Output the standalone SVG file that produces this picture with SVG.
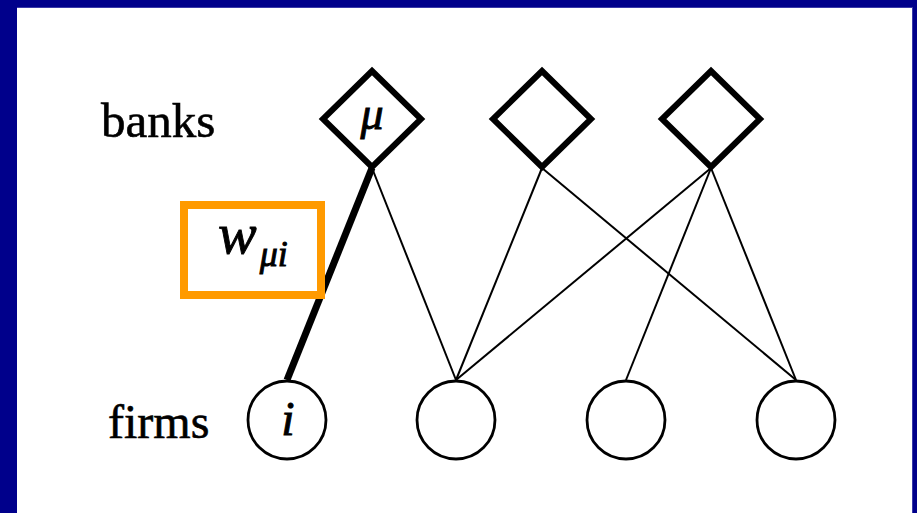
<svg xmlns="http://www.w3.org/2000/svg" width="917" height="513" viewBox="0 0 917 513">
  <style>
    .bank { fill: #fff; stroke: #000; stroke-width: 6; stroke-linejoin: miter; }
    .firm { fill: #fff; stroke: #000; stroke-width: 2.8; }
    .edge { stroke: #000; stroke-width: 2; fill: none; }
    .heavy { stroke: #000; stroke-width: 7; fill: none; }
    .lbl { font-family: "Liberation Serif", "DejaVu Serif", serif; fill: #000; stroke: #000; stroke-width: 0.6; }
    .math { font-family: "Liberation Serif", "DejaVu Serif", serif; font-style: italic; fill: #000; stroke: #000; stroke-width: 0.9; }
  </style>

  <!-- slide frame -->
  <rect x="0" y="0" width="917" height="513" fill="#00008B"/>
  <rect x="17" y="7" width="896" height="506" fill="#fff"/>
  <line x1="17" y1="7.5" x2="913" y2="7.5" stroke="#3a3aa8" stroke-width="1"/>
  <line x1="912.5" y1="7" x2="912.5" y2="513" stroke="#3a3aa8" stroke-width="1"/>

  <!-- row labels -->
  <text class="lbl" x="101" y="137" font-size="49">banks</text>
  <text class="lbl" x="108" y="438" font-size="48">firms</text>

  <!-- bank-firm links -->
  <g id="connectors">
    <line class="heavy" x1="372" y1="168" x2="287" y2="380"/>
    <line class="edge" x1="372" y1="168" x2="456" y2="380"/>
    <line class="edge" x1="542" y1="168" x2="456" y2="380"/>
    <line class="edge" x1="542" y1="168" x2="796" y2="380"/>
    <line class="edge" x1="711" y1="168" x2="456" y2="380"/>
    <line class="edge" x1="711" y1="168" x2="626" y2="380"/>
    <line class="edge" x1="711" y1="168" x2="796" y2="380"/>
  </g>

  <!-- banks -->
  <g id="bank-mu">
    <polygon class="bank" points="372,71 421,119 372,167 323,119"/>
    <text class="math" x="372" y="129" font-size="46" text-anchor="middle">μ</text>
  </g>
  <g id="bank-2">
    <polygon class="bank" points="542,71 591,119 542,167 493,119"/>
  </g>
  <g id="bank-3">
    <polygon class="bank" points="711,71 760,119 711,167 662,119"/>
  </g>

  <!-- firms -->
  <g id="firm-i">
    <circle class="firm" cx="287" cy="420" r="39"/>
    <text class="math" x="288" y="435" font-size="48" text-anchor="middle">i</text>
  </g>
  <g id="firm-2">
    <circle class="firm" cx="456" cy="420" r="39"/>
  </g>
  <g id="firm-3">
    <circle class="firm" cx="626" cy="420" r="39"/>
  </g>
  <g id="firm-4">
    <circle class="firm" cx="796" cy="420" r="39"/>
  </g>

  <!-- highlighted weight label -->
  <g id="weight-label">
    <rect x="184" y="205" width="137" height="90" fill="none" stroke="#FF9A00" stroke-width="8"/>
    <text class="math" x="218" y="253" font-size="58">w<tspan font-size="36" dx="3" dy="13">μi</tspan></text>
  </g>
</svg>
